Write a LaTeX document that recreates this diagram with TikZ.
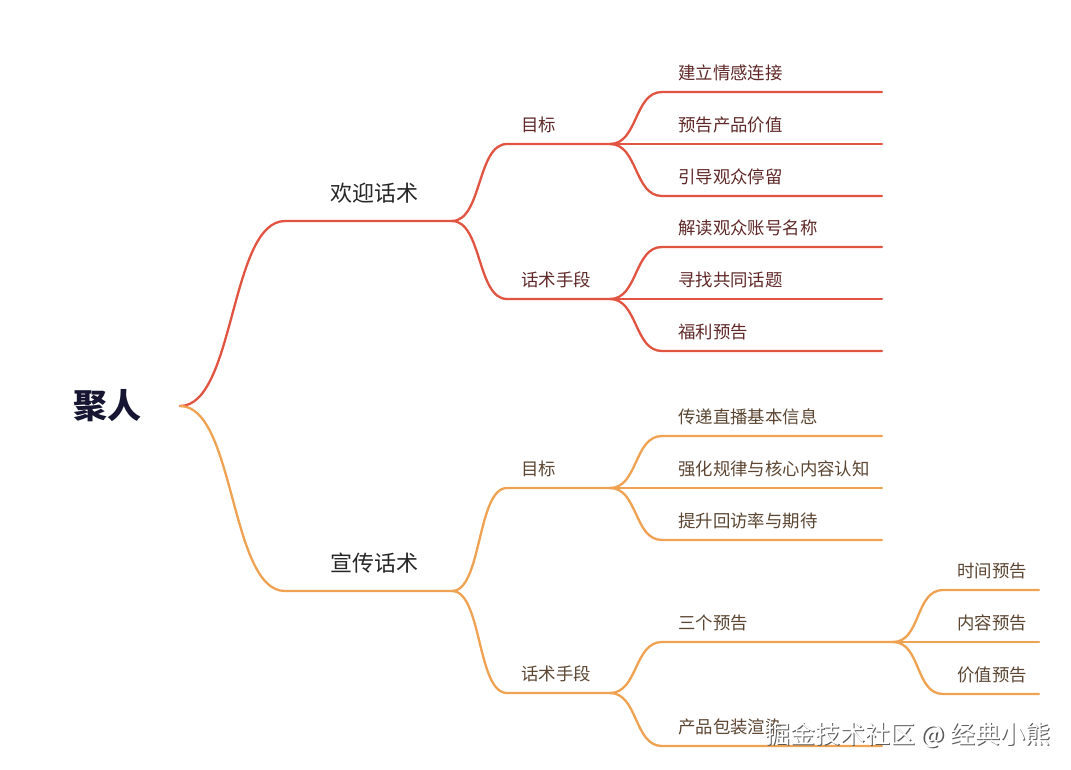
\documentclass[tikz,border=0pt]{standalone}
\usepackage{fontspec}
\newfontfamily\cjk{Noto Sans CJK SC}
\definecolor{redc}{RGB}{226,84,66}
\definecolor{orc}{RGB}{238,162,82}
\definecolor{redtxt}{RGB}{96,40,40}
\definecolor{ortxt}{RGB}{92,70,50}
\definecolor{roottxt}{RGB}{22,22,50}
\tikzset{
  rl/.style={draw=redc, line width=2.3pt, line cap=round},
  ol/.style={draw=orc, line width=2.3pt, line cap=round},
  rootlbl/.style={font=\cjk\bfseries\fontsize{34}{36}\selectfont, text=roottxt, inner sep=0pt},
  lone/.style={font=\cjk\fontsize{22}{24}\selectfont, text=black!85, anchor=base west, inner sep=0pt},
  ltwoR/.style={font=\cjk\fontsize{17.4}{19}\selectfont, text=redtxt, anchor=base west, inner sep=0pt},
  ltwoO/.style={font=\cjk\fontsize{17.4}{19}\selectfont, text=ortxt, anchor=base west, inner sep=0pt},
  wm/.style={font=\cjk\fontsize{25}{27}\selectfont, inner sep=0pt, anchor=base west}
}
\begin{document}
\begin{tikzpicture}[x=1pt,y=-1pt]
\useasboundingbox[fill=white] (0,0) rectangle (1071,769);
% root
\node[rootlbl] (root) at (107,406) {聚人};
\coordinate (R) at (180,406);
% level 1
\coordinate (a1s) at (285,221); \coordinate (a1e) at (452,221);
\coordinate (a2s) at (285,591); \coordinate (a2e) at (452,591);
\node[lone] (t1) at (330,201) {欢迎话术};
\node[lone] (t2) at (330,571) {宣传话术};
\draw[rl] (R) .. controls +(55,0) and +(-55,0) .. (a1s) -- (a1e);
\draw[ol] (R) .. controls +(55,0) and +(-55,0) .. (a2s) -- (a2e);
% level 2
\coordinate (b1s) at (507,144); \coordinate (b1e) at (610,144);
\coordinate (b2s) at (507,299); \coordinate (b2e) at (610,299);
\coordinate (b3s) at (507,488); \coordinate (b3e) at (610,488);
\coordinate (b4s) at (507,693); \coordinate (b4e) at (610,693);
\node[ltwoR] (m1) at (521,131) {目标};
\node[ltwoR] (m2) at (521,286) {话术手段};
\node[ltwoO] (m3) at (521,475) {目标};
\node[ltwoO] (m4) at (521,680) {话术手段};
\draw[rl] (a1e) .. controls +(30,0) and +(-30,0) .. (b1s) -- (b1e);
\draw[rl] (a1e) .. controls +(30,0) and +(-30,0) .. (b2s) -- (b2e);
\draw[ol] (a2e) .. controls +(30,0) and +(-30,0) .. (b3s) -- (b3e);
\draw[ol] (a2e) .. controls +(30,0) and +(-30,0) .. (b4s) -- (b4e);
% leaves red
\foreach \y/\t/\n/\p in {92/建立情感连接/c1/b1e, 144/预告产品价值/c2/b1e, 196/引导观众停留/c3/b1e,
                        247/解读观众账号名称/c4/b2e, 299/寻找共同话题/c5/b2e, 351/福利预告/c6/b2e}{
  \coordinate (\n s) at (662,\y); \coordinate (\n e) at (882,\y);
  \node[ltwoR] (\n t) at (678,\y-13) {\t};
  \draw[rl] (\p) .. controls +(28,0) and +(-28,0) .. (\n s) -- (\n e);
}
% leaves orange
\foreach \y/\t/\n/\p in {436/传递直播基本信息/d1/b3e, 488/强化规律与核心内容认知/d2/b3e, 540/提升回访率与期待/d3/b3e,
                        746/产品包装渲染/d5/b4e}{
  \coordinate (\n s) at (662,\y); \coordinate (\n e) at (882,\y);
  \node[ltwoO] (\n t) at (678,\y-13) {\t};
  \draw[ol] (\p) .. controls +(28,0) and +(-28,0) .. (\n s) -- (\n e);
}
\coordinate (d4s) at (662,642); \coordinate (d4e) at (893,642);
\node[ltwoO] (d4t) at (678,629) {三个预告};
\draw[ol] (b4e) .. controls +(28,0) and +(-28,0) .. (d4s) -- (d4e);
% sub leaves
\foreach \y/\t/\n in {590/时间预告/e1, 642/内容预告/e2, 694/价值预告/e3}{
  \coordinate (\n s) at (943,\y); \coordinate (\n e) at (1039,\y);
  \node[ltwoO] (\n t) at (957,\y-13) {\t};
  \draw[ol] (d4e) .. controls +(28,0) and +(-28,0) .. (\n s) -- (\n e);
}
% watermark
\node[wm, text=black!65] (wms) at (766.3,744.3) {掘金技术社区 @ 经典小熊};
\node[wm, text=white] (wm) at (765,743) {掘金技术社区 @ 经典小熊};
\end{tikzpicture}
\end{document}
